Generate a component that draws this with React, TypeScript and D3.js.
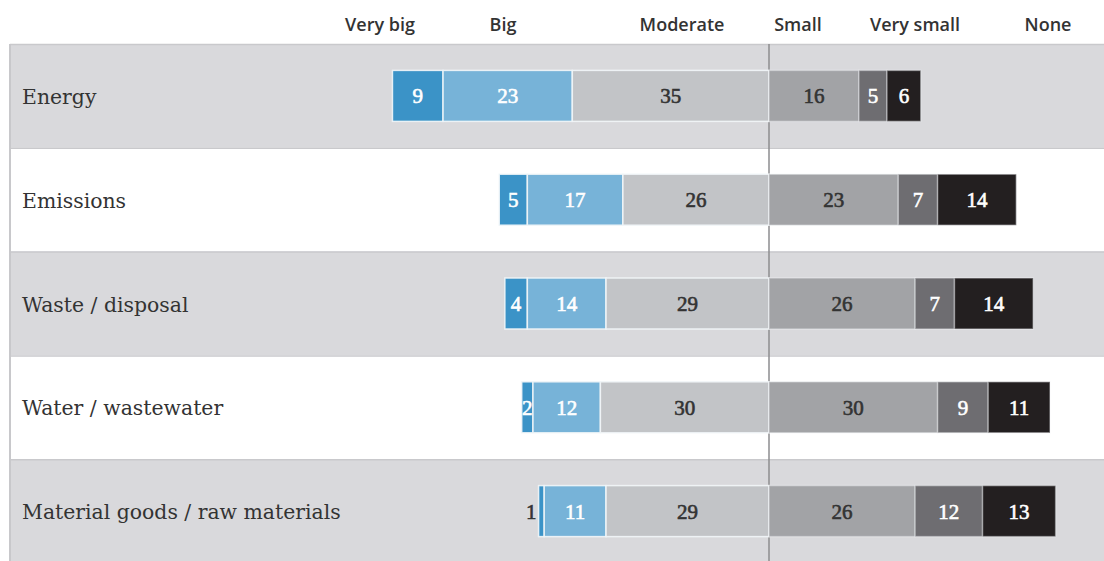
import React from "react";
import * as d3 from "d3";

const categories = [
  "Energy",
  "Emissions",
  "Waste / disposal",
  "Water / wastewater",
  "Material goods / raw materials",
];
const levels = ["Very big", "Big", "Moderate", "Small", "Very small", "None"];
const veryBig = [9, 5, 4, 2, 1];
const big = [23, 17, 14, 12, 11];
const moderate = [35, 26, 29, 30, 29];
const small = [16, 23, 26, 30, 26];
const verySmall = [5, 7, 7, 9, 12];
const none = [6, 14, 14, 11, 13];

const colors = ["#3b93c7", "#77b3d8", "#c2c4c7", "#a2a3a6", "#6e6d71", "#231f20"];
const textColors = ["#ffffff", "#ffffff", "#333333", "#333333", "#ffffff", "#ffffff"];
const headerX = [380, 503, 682, 798, 915, 1048];

const W = 1104;
const H = 561;
const top = 44;
const rowH = 103.8;
const centerX = 769;
const unit = 5.62;

export default function App() {
  const y = d3
    .scaleBand<string>()
    .domain(categories)
    .range([top, top + rowH * categories.length])
    .paddingInner(0)
    .paddingOuter(0);
  const x = d3.scaleLinear().domain([-100, 100]).range([centerX - 100 * unit, centerX + 100 * unit]);
  const barH = 51;

  const rows = categories.map((c, i) => {
    const vals = [veryBig[i], big[i], moderate[i], small[i], verySmall[i], none[i]];
    const leftTotal = vals[0] + vals[1] + vals[2];
    let start = -leftTotal;
    const segs = vals.map((v, j) => {
      const s = { x0: start, x1: start + v, v, j };
      start += v;
      return s;
    });
    return { c, i, segs };
  });

  return (
    <svg
      width={W}
      height={H}
      style={{ position: "absolute", left: 0, top: 0, background: "#fff" }}
    >
      {rows.map(({ c, i }) => (
        <rect
          key={"band" + c}
          x={10}
          y={y(c)!}
          width={W - 10}
          height={i === categories.length - 1 ? H - y(c)! : y.bandwidth()}
          fill={i % 2 === 0 ? "#d9d9dc" : "#ffffff"}
        />
      ))}
      {rows.map(({ c }) => (
        <line
          key={"sep" + c}
          x1={10}
          x2={W}
          y1={y(c)! + 0.5}
          y2={y(c)! + 0.5}
          stroke="#c9c9cc"
          strokeWidth={1.5}
        />
      ))}
      <line x1={10} x2={10} y1={top} y2={H} stroke="#c8c8cb" strokeWidth={2} />
      <line x1={centerX} x2={centerX} y1={top} y2={H} stroke="#8c8c8f" strokeWidth={1.5} />

      {levels.map((l, j) => (
        <text
          key={l}
          x={headerX[j]}
          y={31}
          textAnchor="middle"
          fontFamily="'Open Sans', sans-serif"
          fontWeight={600}
          fontSize={18}
          fill="#333"
        >
          {l}
        </text>
      ))}

      {rows.map(({ c, segs }) => {
        const cy = y(c)! + y.bandwidth() / 2;
        return (
          <g key={c}>
            <text
              x={22}
              y={cy + 8}
              fontFamily="'DejaVu Serif', serif"
              fontSize={20.4}
              fill="#333"
            >
              {c}
            </text>
            {segs.map((s) => (
              <rect
                key={s.j}
                x={x(s.x0)}
                y={cy - barH / 2}
                width={x(s.x1) - x(s.x0)}
                height={barH}
                fill={colors[s.j]}
                stroke="#f2f6f8"
                strokeOpacity={s.j < 3 ? 0.9 : 0.4}
                strokeWidth={1.5}
              />
            ))}
            {segs.map((s) => {
              const outside = s.v === 1;
              const tx = outside ? x(s.x0) - 2 : (x(s.x0) + x(s.x1)) / 2;
              const fill = outside ? "#333" : textColors[s.j];
              return (
                <text
                  key={"t" + s.j}
                  x={tx}
                  y={cy + 7.5}
                  textAnchor={outside ? "end" : "middle"}
                  fontFamily="'Liberation Serif', serif"
                  fontSize={21}
                  fill={fill}
                  stroke={fill}
                  strokeWidth={0.6}
                >
                  {s.v}
                </text>
              );
            })}
          </g>
        );
      })}
    </svg>
  );
}
